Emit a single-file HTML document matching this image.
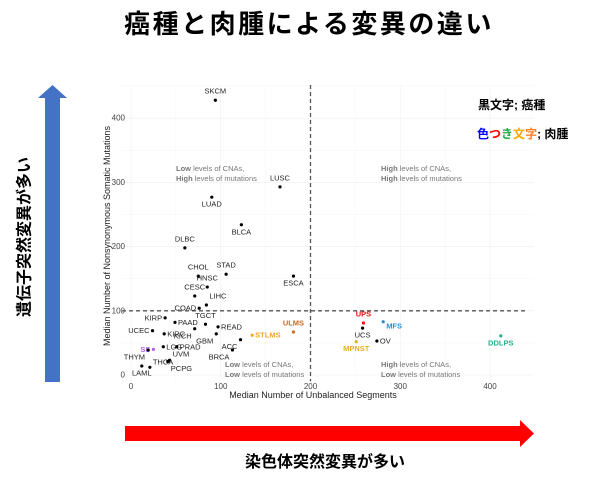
<!DOCTYPE html>
<html><head><meta charset="utf-8"><style>
html,body{margin:0;padding:0;background:#fff;width:612px;height:495px;overflow:hidden}
svg{display:block;font-family:"Liberation Sans","Noto Sans CJK JP",sans-serif}
</style></head><body>
<svg id="c" width="612" height="495" viewBox="0 0 612 495">
<text x="309" y="33" text-anchor="middle" font-size="26" font-weight="bold" letter-spacing="2.5" font-family="'Liberation Sans','Noto Sans CJK JP',sans-serif">癌種と肉腫による変異の違い</text>
<g id="grid"></g>
<g id="axes"></g>
<g id="marks"></g>
<polygon points="45,382 60,382 60,98 67,98 52.5,85 38,98 45,98" fill="#4472c4"/>
<text transform="translate(25,237) rotate(-90)" text-anchor="middle" dominant-baseline="central" font-size="16" font-weight="bold">遺伝子突然変異が多い</text>
<polygon points="125,426 520,426 520,420 534,433.5 520,447 520,441 125,441" fill="#ff0000"/>
<text x="325" y="467" text-anchor="middle" font-size="16" font-weight="bold">染色体突然変異が多い</text>
<text x="478" y="109" font-size="12" font-weight="bold">黒文字; 癌種</text>
<text x="477" y="138" font-size="12" font-weight="bold"><tspan fill="#0000ff">色</tspan><tspan fill="#ff0000">つ</tspan><tspan fill="#22aa44">き</tspan><tspan fill="#ffa500">文</tspan><tspan fill="#ff7f27">字</tspan><tspan fill="#000">; 肉腫</tspan></text>
</svg>
<script>
const labels=["SKCM","LUSC","LUAD","BLCA","DLBC","CHOL","STAD","ESCA","HNSC","CESC","LIHC","COAD","KIRP","UCEC","KIRC","PAAD","TGCT","KICH","READ","GBM","ACC","BRCA","STLMS","ULMS","SS","THYM","LGG","PRAD","UVM","THCA","LAML","PCPG","UPS","UCS","MFS","OV","MPNST","DDLPS"];
const segs=[94,166,90,123,60,75,106,181,85,71,84,76,38,24,37,49,83,71,97,95,122,113,135,181,25,19,36,51,43,21,12,41,259,258,281,274,251,412];
const muts=[428,293,277,234,198,154,157,154,137,123,109,104,89,69,64,82,79,72,75,64,55,39,62,67,40,39,44,44,23,12,14,21,81,73,83,53,52,61];
const colors=["#000","#000","#000","#000","#000","#000","#000","#000","#000","#000","#000","#000","#000","#000","#000","#000","#000","#000","#000","#000","#000","#000","#f5a623","#d2691e","#b45ce6","#000","#000","#000","#000","#000","#000","#000","#ee1111","#000","#2a8fc8","#000","#e0b020","#20b28a"];
const dx=[0,0,0,0,0,0,0,0,0,0,1,-1,-1,-1,1,1,0,-1,1,-1,-1,-1,1,0,-1,-1,1,1,1,1,0,1,0,0,1,1,0,0];
const dy=[-5,-5,5,5,-5,-5,-5,5,-5,-5,-5,0,0,0,0,0,-5,5,0,5,5,5,0,-5,0,5,0,0,-3,-2,5,5,-5,5,3,0,5,5];
const xTicks=[0,100,200,300,400];
const yTicks=[0,100,200,300,400];
const X=v=>131+v*0.8975, Y=v=>375-v*0.642;
const ns="http://www.w3.org/2000/svg";
function mk(tag,attrs,parent,txt){const e=document.createElementNS(ns,tag);for(const k in attrs)e.setAttribute(k,attrs[k]);if(txt!==undefined)e.textContent=txt;parent.appendChild(e);return e;}
const grid=document.getElementById('grid'),axes=document.getElementById('axes'),marks=document.getElementById('marks');
for(let v=0;v<=450;v+=50){const g=mk('line',{x1:X(0)-10,x2:X(440)+8,y1:Y(v),y2:Y(v),stroke:v%100?'#f6f6f6':'#eeeeee','stroke-width':0.6},grid);

}
for(let v=0;v<=400;v+=50){const g=mk('line',{x1:X(v),x2:X(v),y1:Y(-10),y2:Y(450),stroke:v%100?'#f6f6f6':'#eeeeee','stroke-width':0.6},grid);

}
xTicks.forEach(v=>{const t=mk('text',{x:X(v),y:389,'text-anchor':'middle','font-size':8,fill:'#444'},axes,String(v));

});
yTicks.forEach(v=>{const t=mk('text',{x:125,y:Y(v)+2.5,'text-anchor':'end','font-size':8,fill:'#444'},axes,String(v));

});
let t=mk('text',{x:313,y:398,'text-anchor':'middle','font-size':9,fill:'#222'},axes,'Median Number of Unbalanced Segments');


t=mk('text',{transform:'translate(110,236) rotate(-90)','text-anchor':'middle','font-size':9,fill:'#222'},axes,'Median Number of Nonsynonymous Somatic Mutations');


let l=mk('line',{x1:X(200),x2:X(200),y1:85,y2:Y(-10),stroke:'#555','stroke-width':1.3,'stroke-dasharray':'4,3'},axes);


l=mk('line',{x1:X(-10),x2:X(440),y1:Y(100),y2:Y(100),stroke:'#555','stroke-width':1.3,'stroke-dasharray':'4,3'},axes);


const quads=[[176,171,'Low',' levels of CNAs,','High',' levels of mutations'],[381,171,'High',' levels of CNAs,','High',' levels of mutations'],[225,367,'Low',' levels of CNAs,','Low',' levels of mutations'],[381,367,'High',' levels of CNAs,','Low',' levels of mutations']];
quads.forEach(q=>{const g=mk('text',{x:q[0],y:q[1],'font-size':7.5,fill:'#777'},axes);


mk('tspan',{'font-weight':'bold'},g,q[2]);mk('tspan',{},g,q[3]);
mk('tspan',{x:q[0],dy:10,'font-weight':'bold'},g,q[4]);mk('tspan',{},g,q[5]);});
labels.forEach((n,i)=>{const px=X(segs[i]),py=Y(muts[i]);
const c=mk('circle',{cx:px,cy:py,r:1.6,fill:colors[i]},marks);


const a=dx[i]>0?'start':dx[i]<0?'end':'middle';
const sar=colors[i]!=='#000';
const tx=mk('text',{x:px+dx[i]*3,y:py+dy[i]*1.3+(dy[i]>0?3:dy[i]<0?0:2.5),'text-anchor':a,'font-size':7.5,fill:sar?colors[i]:'#222','font-weight':sar?'bold':'normal'},marks,n);

});
</script>
</body></html>
